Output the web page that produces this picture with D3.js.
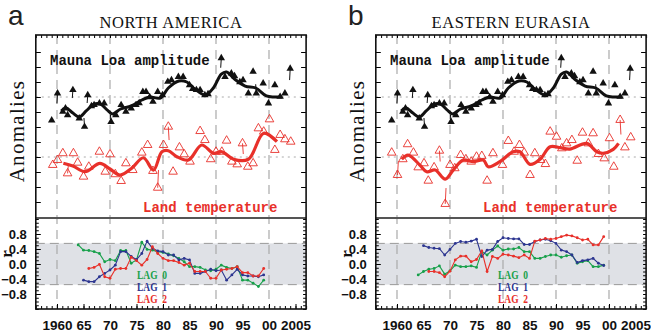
<!DOCTYPE html>
<html>
<head>
<meta charset="utf-8">
<script src="https://cdn.jsdelivr.net/npm/d3@7"></script>
<style>
  body { margin: 0; background: #fff; }
  svg { display: block; }
</style>
</head>
<body>
<svg id="chart" width="651" height="333"></svg>
<script>
const svg = d3.select("#chart");

// ---- data ----
const panelLetters = ["a", "b"];
const panelTitles = ["NORTH AMERICA", "EASTERN EURASIA"];

const yearTicks = [1960, 1965, 1970, 1975, 1980, 1985, 1990, 1995, 2000, 2005];
const yearLabels = ["1960", "65", "70", "75", "80", "85", "90", "95", "00", "2005"];
const rTicks = [0.8, 0.4, 0, -0.4, -0.8];
const rLabels = ["0.8", "0.4", "0.0", "\u22120.4", "\u22120.8"];
const lagNames = ["LAG  0", "LAG  1", "LAG  2"];

// Mauna Loa amplitude anomalies [year, value] (same in both panels)
const maunaLoaPoints = [
  [1959.0, -1.55], [1960.1, 0.25], [1961.1, -0.98], [1961.6, -0.75], [1962.0, -1.2],
  [1963.0, 0.47], [1964.2, -1.42], [1965.2, -1.98], [1965.8, 0.13], [1966.5, -0.6],
  [1967.0, -0.53], [1968.0, -0.42], [1968.9, -0.42], [1970.2, -1.65], [1971.1, -1.2],
  [1972.1, -0.53], [1973.0, -0.98], [1974.0, -0.75], [1974.9, -0.53], [1975.5, -0.4],
  [1976.2, 0.35], [1976.8, 0.35], [1977.5, 0.0], [1978.1, -0.31], [1979.0, 0.35],
  [1979.9, 0.13], [1980.9, 1.02], [1981.6, 1.13], [1982.9, 1.35], [1983.8, 1.35],
  [1985.0, 0.8], [1985.6, 0.55], [1986.3, 0.47], [1987.0, 0.47], [1987.9, 0.13],
  [1988.5, 0.2], [1991.0, 2.6], [1991.7, 1.35], [1992.9, 1.58], [1993.5, 1.4],
  [1994.5, 1.0], [1995.1, 1.13], [1996.1, 0.25], [1997.0, 1.69], [1997.6, 0.25],
  [1998.9, 0.91], [1999.9, -0.42], [2001.1, 0.8], [2002.1, 0.02], [2003.0, 0.25],
  [2004.0, 1.9]
];
// [year, point value, tail end value]
const maunaLoaTails = [
  [1960.1, 0.25, -0.42], [1963.0, 0.47, -0.07], [1965.8, 0.13, -0.4],
  [1991.0, 2.6, 1.95], [2004.0, 1.9, 1.13], [1965.2, -1.98, -1.4],
  [1970.2, -1.65, -1.2], [1997.6, 0.25, 0.85]
];
const maunaLoaSmooth = [
  [1960.8, -0.93], [1961.7, -0.73], [1963.0, -1.07], [1964.2, -1.33], [1965.5, -0.93],
  [1967.0, -0.47], [1968.2, -0.47], [1969.5, -0.87], [1970.5, -1.13], [1972.0, -0.8],
  [1974.0, -0.6], [1976.0, -0.2], [1977.5, 0.0], [1979.5, -0.07], [1981.0, 0.6],
  [1983.0, 1.07], [1984.5, 1.0], [1986.0, 0.53], [1988.0, 0.13], [1989.5, 0.6],
  [1991.0, 1.53], [1992.0, 1.67], [1993.5, 1.2], [1995.5, 0.73], [1997.5, 0.6],
  [1999.5, 0.07], [2001.0, 0.0], [2002.5, 0.0]
];

// Land temperature anomalies, North America
const landTempA = [
  [1959.2, -0.53], [1960.1, -0.2], [1961.1, 0.25], [1962.0, -1.09], [1963.1, 0.25],
  [1963.9, -0.38], [1965.0, -1.31], [1966.0, -0.65], [1968.0, 0.35], [1969.1, -0.98],
  [1970.0, 0.18], [1971.0, -1.15], [1972.1, -1.6], [1973.0, -0.42], [1974.3, -0.87],
  [1976.0, 0.29], [1977.1, 0.8], [1978.1, -0.93], [1979.0, -2.05], [1980.1, 0.8],
  [1981.0, 2.02], [1981.9, -0.98], [1983.1, 0.64], [1984.0, 0.18], [1985.1, -0.31],
  [1987.0, 1.73], [1987.9, 1.13], [1989.0, -0.15], [1990.0, 0.35], [1991.1, 0.35],
  [1992.0, 1.09], [1993.0, -0.31], [1994.0, -0.49], [1995.0, 0.91], [1996.0, -0.65],
  [1997.0, -0.42], [1998.0, 1.91], [1999.0, 1.69], [2000.1, 2.51], [2001.1, 0.47],
  [2002.1, 1.47], [2003.0, 1.18], [2004.1, 1.02]
];
const landTempTailsA = [
  [1979.0, -2.05, -0.87], [1981.0, 2.02, 1.13], [1962.0, -1.09, -0.5], [1995.0, 0.91, 0.2]
];
const landTempSmoothA = [
  [1961.2, -0.42], [1963.0, -0.6], [1965.3, -0.98], [1968.1, -0.42], [1970.0, -0.8],
  [1971.9, -1.2], [1974.1, -0.75], [1976.3, -0.05], [1978.2, -0.87], [1979.8, 0.35],
  [1981.0, 0.42], [1982.6, 0.02], [1984.8, -0.2], [1987.3, 0.8], [1989.5, 0.25],
  [1991.1, 0.35], [1993.3, -0.15], [1996.1, -0.15], [1999.0, 1.58], [2001.5, 1.02]
];

// Land temperature anomalies, Eastern Eurasia
const landTempB = [
  [1959.0, 0.29], [1960.1, -1.2], [1961.1, -0.15], [1962.0, 0.85], [1963.1, 0.29],
  [1964.0, -0.69], [1965.1, -0.42], [1965.9, -1.58], [1967.0, -0.69], [1968.0, 0.42],
  [1969.1, -3.13], [1970.0, -0.53], [1970.9, -0.75], [1972.0, 0.13], [1973.0, -0.15],
  [1974.0, -0.31], [1975.0, 0.02], [1976.0, 0.07], [1977.0, -1.58], [1978.1, 0.25],
  [1979.9, -0.53], [1981.0, 1.07], [1982.1, 0.35], [1983.1, 0.8], [1984.0, 0.29],
  [1985.1, -1.2], [1986.0, 0.25], [1987.1, -0.2], [1988.0, -0.47], [1988.9, 1.69],
  [1990.1, 1.35], [1991.1, 0.58], [1992.0, 0.91], [1993.0, 1.13], [1994.0, -0.25],
  [1995.0, 1.62], [1996.1, 0.91], [1997.0, 1.58], [1998.0, 0.2], [1999.1, -0.09],
  [2000.1, 1.25], [2000.9, -0.65], [2002.1, 2.47], [2003.0, 0.64], [2004.1, 1.31]
];
const landTempTailsB = [
  [1969.1, -3.13, -2.07], [2002.1, 2.47, 1.5], [1960.1, -1.2, -0.3], [1968.0, 0.42, -0.3]
];
const landTempSmoothB = [
  [1960.9, -0.15], [1962.1, 0.13], [1964.3, -0.53], [1965.6, -0.98], [1967.2, -0.87],
  [1969.1, -1.47], [1970.6, -0.87], [1972.5, -0.2], [1974.4, -0.31], [1976.3, -0.2],
  [1977.2, -0.65], [1979.4, -0.31], [1981.9, 0.35], [1983.2, 0.35], [1985.1, -0.49],
  [1987.0, -0.15], [1988.9, 0.69], [1990.8, 0.62], [1992.6, 0.53], [1995.8, 0.91],
  [1997.7, 0.35], [1998.9, 0.25], [2000.8, 0.51], [2001.8, 0.91]
];

// Lagged correlations r, one value per year from the start year
const lag0StartA = 1964;
const lag0A = [0.51, 0.37, 0.36, 0.33, 0.28, 0.06, 0.12, 0.09, 0.36, 0.36, 0.02, 0.11,
  0.58, 0.39, 0.37, 0.33, 0.31, 0.27, 0.22, 0.15, 0.06, -0.07, -0.07, -0.09, -0.16,
  -0.18, -0.14, -0.03, -0.09, -0.12, -0.07, -0.43, -0.43, -0.51, -0.6, -0.43];
const lag1StartA = 1965;
const lag1A = [-0.43, -0.47, -0.47, -0.34, -0.25, -0.16, -0.03, 0.33, 0.33, 0.2, 0.12,
  0.28, 0.61, 0.42, 0.35, 0.33, 0.24, 0.24, 0.11, 0.15, 0.11, -0.25, -0.25, -0.2, -0.14,
  -0.18, -0.16, -0.43, -0.29, -0.14, -0.29, -0.32, -0.32, -0.34, -0.29];
const lag2StartA = 1966;
const lag2A = [-0.12, -0.09, -0.01, -0.34, -0.38, -0.14, -0.12, -0.12, 0.18, 0.09,
  -0.03, 0.12, 0.46, 0.28, 0.15, 0.09, 0.09, 0.04, -0.03, 0.02, -0.2, -0.2, -0.2, -0.38,
  -0.38, -0.16, -0.14, -0.12, -0.07, -0.23, -0.23, -0.32, -0.32, -0.12];

const lag0StartB = 1964;
const lag0B = [-0.29, -0.2, -0.14, -0.12, -0.05, -0.27, -0.18, -0.03, -0.07, -0.07,
  -0.05, -0.09, 0.33, 0.24, 0.37, 0.48, 0.37, 0.4, 0.4, 0.44, 0.33, 0.33, 0.15, 0.15,
  0.2, 0.24, 0.24, 0.18, 0.22, 0.24, 0.02, 0.06, 0.09, -0.07, -0.07, -0.03];
const lag1StartB = 1965;
const lag1B = [0.49, 0.44, 0.42, 0.41, 0.24, 0.39, 0.55, 0.6, 0.58, 0.61, 0.66, 0.2,
  0.37, 0.39, 0.6, 0.7, 0.68, 0.67, 0.67, 0.52, 0.52, 0.6, 0.64, 0.66, 0.62, 0.55, 0.37,
  0.33, 0.24, 0.04, 0.09, 0.11, 0.15, 0.02, -0.04];
const lag2StartB = 1966;
const lag2B = [-0.2, -0.2, -0.23, -0.34, -0.19, 0.11, 0.21, 0.21, 0.06, 0.12, 0.35,
  -0.2, 0.2, 0.15, 0.26, 0.24, 0.21, 0.17, 0.24, 0.15, 0.61, 0.64, 0.68, 0.66, 0.68,
  0.73, 0.77, 0.75, 0.7, 0.64, 0.66, 0.51, 0.51, 0.73];

const significance = 0.55;   // edge of the grey band
const redOffset = -4;        // land temperature drawn below amplitude

// ---- layout ----
const panelShift = 340;
const yTop = 35, yDiv = 218, yBot = 309;
const black = "#111", red = "#e8302a", green = "#17a04a", blue = "#2c3590";
const lagColors = [green, blue, red];

const yUp = d3.scaleLinear().domain([-7, 3]).range([202, 52]);
const yR = d3.scaleLinear().domain([-0.8, 0.8]).range([294, 234]);

const panels = [
  { land: landTempA, landTails: landTempTailsA, landSmooth: landTempSmoothA,
    lags: [[lag0StartA, lag0A], [lag1StartA, lag1A], [lag2StartA, lag2A]], lagX: 137 },
  { land: landTempB, landTails: landTempTailsB, landSmooth: landTempSmoothB,
    lags: [[lag0StartB, lag0B], [lag1StartB, lag1B], [lag2StartB, lag2B]], lagX: 158 }
];

panels.forEach((p, i) => {
  const ox = i * panelShift;
  const x = d3.scaleLinear().domain([1960, 2005]).range([57 + ox, 295.5 + ox]);
  const xL = x(1956), xR = x(2007);
  const g = svg.append("g");

  // clip
  const clipId = "clip" + i;
  svg.append("clipPath").attr("id", clipId)
    .append("rect").attr("x", xL).attr("y", yTop).attr("width", xR - xL).attr("height", yBot - yTop);

  // grey significance band
  g.append("rect")
    .attr("x", xL).attr("width", xR - xL)
    .attr("y", yR(significance)).attr("height", yR(-significance) - yR(significance))
    .attr("fill", "#dfe1e6");
  [significance, -significance].forEach(v => {
    g.append("line").attr("x1", xL).attr("x2", xR).attr("y1", yR(v)).attr("y2", yR(v))
      .attr("stroke", "#999").attr("stroke-width", 1).attr("stroke-dasharray", "9,5");
  });

  // dotted baselines
  [0, redOffset].forEach(v => {
    g.append("line").attr("x1", xL).attr("x2", xR).attr("y1", yUp(v)).attr("y2", yUp(v))
      .attr("stroke", "#aaa").attr("stroke-width", 1).attr("stroke-dasharray", "2,4");
  });

  // dashed decade lines
  [1960, 1970, 1980, 1990, 2000].forEach(yr => {
    g.append("line").attr("x1", x(yr)).attr("x2", x(yr)).attr("y1", yTop).attr("y2", yBot)
      .attr("stroke", "#aaa").attr("stroke-width", 1.2).attr("stroke-dasharray", "9,6");
  });

  const data = g.append("g").attr("clip-path", `url(#${clipId})`);

  // Mauna Loa amplitude
  const lineUp = d3.line().x(d => x(d[0])).y(d => yUp(d[1])).curve(d3.curveCatmullRom.alpha(0.5));
  data.selectAll(".mlTail").data(maunaLoaTails).join("line")
    .attr("x1", d => x(d[0])).attr("x2", d => x(d[0]) - 0.6)
    .attr("y1", d => yUp(d[1])).attr("y2", d => yUp(d[2]))
    .attr("stroke", black).attr("stroke-width", 1);
  data.append("path").datum(maunaLoaSmooth).attr("d", lineUp)
    .attr("fill", "none").attr("stroke", black).attr("stroke-width", 3);
  data.selectAll(".ml").data(maunaLoaPoints).join("path")
    .attr("transform", d => `translate(${x(d[0])},${yUp(d[1])})`)
    .attr("d", d3.symbol(d3.symbolTriangle).size(24))
    .attr("fill", black);

  // land temperature
  const lineRed = d3.line().x(d => x(d[0])).y(d => yUp(d[1] + redOffset)).curve(d3.curveCatmullRom.alpha(0.5));
  data.selectAll(".ltTail").data(p.landTails).join("line")
    .attr("x1", d => x(d[0])).attr("x2", d => x(d[0]) + 0.8)
    .attr("y1", d => yUp(d[1] + redOffset)).attr("y2", d => yUp(d[2] + redOffset))
    .attr("stroke", red).attr("stroke-width", 0.9);
  data.append("path").datum(p.landSmooth).attr("d", lineRed)
    .attr("fill", "none").attr("stroke", red).attr("stroke-width", 3.2);
  data.selectAll(".lt").data(p.land).join("path")
    .attr("transform", d => `translate(${x(d[0])},${yUp(d[1] + redOffset)})`)
    .attr("d", d3.symbol(d3.symbolTriangle).size(32))
    .attr("fill", "none").attr("stroke", red).attr("stroke-width", 0.9);

  // lagged correlations
  const lineR = d3.line().x(d => x(d[0])).y(d => yR(d[1]));
  p.lags.forEach(([start, vals], k) => {
    const pts = vals.map((v, j) => [start + j, v]);
    data.append("path").datum(pts).attr("d", lineR)
      .attr("fill", "none").attr("stroke", lagColors[k]).attr("stroke-width", 1.1);
    data.selectAll(".dot" + k).data(pts).join("circle")
      .attr("cx", d => x(d[0])).attr("cy", d => yR(d[1])).attr("r", 1.4)
      .attr("fill", lagColors[k]);
  });

  // ticks via axes
  const xMinor = d3.range(1956, 2008);
  g.append("g").attr("transform", `translate(0,${yTop})`)
    .call(d3.axisBottom(x).tickValues(xMinor).tickSize(3).tickFormat(""))
    .call(a => a.select(".domain").remove());
  g.append("g").attr("transform", `translate(0,${yBot})`)
    .call(d3.axisTop(x).tickValues(xMinor).tickSize(3).tickFormat(""))
    .call(a => a.select(".domain").remove());
  g.append("g").attr("transform", `translate(0,${yBot})`)
    .call(d3.axisTop(x).tickValues(yearTicks).tickSize(5).tickFormat(""))
    .call(a => a.select(".domain").remove());
  g.append("g").attr("transform", `translate(0,${yBot + 8})`)
    .call(d3.axisBottom(x).tickValues(yearTicks).tickSize(0).tickFormat((d, j) => yearLabels[j]))
    .call(a => a.select(".domain").remove())
    .selectAll("text").attr("font-family", "Liberation Sans, Arial, sans-serif")
    .attr("font-weight", "bold").attr("font-size", 13.5).attr("fill", "#111");

  const upTicks = d3.range(-7, 4);
  g.append("g").attr("transform", `translate(${xL},0)`)
    .call(d3.axisRight(yUp).tickValues(upTicks).tickSize(5).tickFormat(""))
    .call(a => a.select(".domain").remove());
  g.append("g").attr("transform", `translate(${xR},0)`)
    .call(d3.axisLeft(yUp).tickValues(upTicks).tickSize(5).tickFormat(""))
    .call(a => a.select(".domain").remove());

  const rMinor = d3.range(-12, 13).map(k => k / 10);
  g.append("g").attr("transform", `translate(${xL},0)`)
    .call(d3.axisRight(yR).tickValues(rMinor).tickSize(3).tickFormat(""))
    .call(a => a.select(".domain").remove());
  g.append("g").attr("transform", `translate(${xR},0)`)
    .call(d3.axisLeft(yR).tickValues(rMinor).tickSize(3).tickFormat(""))
    .call(a => a.select(".domain").remove());
  g.append("g").attr("transform", `translate(${xL},0)`)
    .call(d3.axisRight(yR).tickValues(rTicks).tickSize(5).tickFormat(""))
    .call(a => a.select(".domain").remove());
  g.append("g").attr("transform", `translate(${xL - 6},0)`)
    .call(d3.axisLeft(yR).tickValues(rTicks).tickSize(0).tickFormat((d, j) => rLabels[j]))
    .call(a => a.select(".domain").remove())
    .selectAll("text").attr("font-family", "Liberation Sans, Arial, sans-serif")
    .attr("font-weight", "bold").attr("font-size", 13).attr("fill", "#111");

  // frame and divider
  g.append("line").attr("x1", xL).attr("x2", xR).attr("y1", yDiv).attr("y2", yDiv)
    .attr("stroke", "#555").attr("stroke-width", 1.8);
  g.append("rect").attr("x", xL).attr("y", yTop).attr("width", xR - xL).attr("height", yBot - yTop)
    .attr("fill", "none").attr("stroke", "#111").attr("stroke-width", 1.6);

  // text
  g.append("text").attr("x", 8 + ox).attr("y", 25).text(panelLetters[i])
    .attr("font-family", "Liberation Sans, Arial, sans-serif").attr("font-size", 28).attr("fill", "#222");
  g.append("text").attr("x", 171 + ox).attr("y", 28).attr("text-anchor", "middle").text(panelTitles[i])
    .attr("font-family", "Liberation Serif, Times New Roman, serif").attr("font-size", 16.5)
    .attr("letter-spacing", 0.6).attr("fill", "#111");
  g.append("text").attr("transform", `translate(${24 + ox},131) rotate(-90)`)
    .attr("text-anchor", "middle").text("Anomalies")
    .attr("font-family", "Liberation Serif, Times New Roman, serif").attr("font-size", 21)
    .attr("letter-spacing", 1.3).attr("fill", "#111");
  g.append("text").attr("transform", `translate(${12 + ox},254) rotate(-90)`)
    .attr("text-anchor", "middle").text("r")
    .attr("font-family", "Liberation Serif, Times New Roman, serif").attr("font-size", 17)
    .attr("font-weight", "bold").attr("fill", "#111");
  g.append("text").attr("x", 50 + ox).attr("y", 65).text("Mauna Loa amplitude")
    .attr("font-family", "Liberation Mono, Courier New, monospace").attr("font-weight", "bold")
    .attr("font-size", 14).attr("fill", "#111");
  g.append("text").attr("x", 143 + ox).attr("y", 212).text("Land temperature")
    .attr("font-family", "Liberation Mono, Courier New, monospace").attr("font-weight", "bold")
    .attr("font-size", 14).attr("fill", red);

  lagNames.forEach((name, k) => {
    g.append("text").attr("x", p.lagX + ox).attr("y", 279 + k * 12).text(name)
      .attr("xml:space", "preserve")
      .attr("font-family", "Liberation Serif, Times New Roman, serif").attr("font-weight", "bold")
      .attr("font-size", 11.5).attr("textLength", 30).attr("lengthAdjust", "spacingAndGlyphs")
      .attr("fill", lagColors[k]);
  });
});
</script>
</body>
</html>
